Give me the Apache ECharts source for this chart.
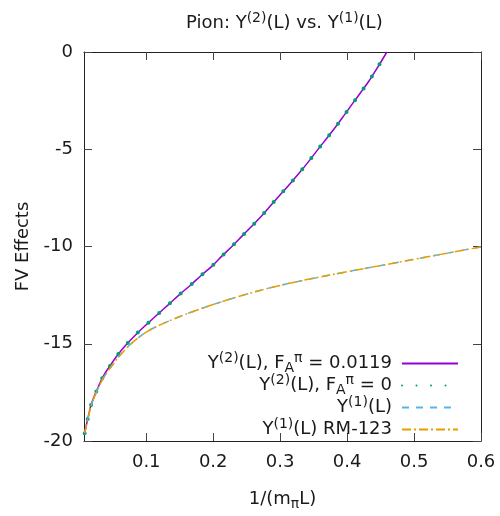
<!DOCTYPE html>
<html>
<head>
<meta charset="utf-8">
<script src="https://cdn.jsdelivr.net/npm/echarts@6/dist/echarts.min.js"></script>
<style>
html,body{margin:0;padding:0;background:#fff;}
#chart{width:500px;height:516px;}
</style>
</head>
<body>
<div id="chart"></div>
<script>
// ---- data ----
const xY2 = [0.008, 0.013, 0.018, 0.0254, 0.0353, 0.0455, 0.0578, 0.0713, 0.0862, 0.1022,
  0.1176, 0.134, 0.15, 0.166, 0.182, 0.1978, 0.2137, 0.2287, 0.2437, 0.2586,
  0.2736, 0.2875, 0.3014, 0.3158, 0.33, 0.343, 0.3562, 0.3697, 0.383, 0.3954,
  0.4078, 0.4203, 0.4327, 0.4442, 0.4594];
const y2Fa0119 = [-19.6, -18.8, -18.1, -17.45, -16.7, -16.15, -15.55, -15.0, -14.47, -13.95,
  -13.47, -12.96, -12.46, -11.99, -11.49, -11.02, -10.47, -9.97, -9.44, -8.92,
  -8.38, -7.83, -7.29, -6.73, -6.16, -5.61, -5.02, -4.43, -3.84, -3.26,
  -2.67, -2.08, -1.49, -0.87, 0.0];
const y2Fa0 = [-19.6, -18.8, -18.1, -17.45, -16.7, -16.15, -15.55, -15.0, -14.47, -13.95,
  -13.47, -12.96, -12.46, -11.99, -11.49, -11.02, -10.47, -9.97, -9.44, -8.92,
  -8.38, -7.83, -7.29, -6.73, -6.16, -5.61, -5.02, -4.43, -3.84, -3.26,
  -2.67, -2.08, -1.49, -0.87, 0.0];
const xY1 = [0.008, 0.013, 0.018, 0.0254, 0.0353, 0.0455, 0.0578, 0.0713, 0.086, 0.106,
  0.136, 0.171, 0.211, 0.25, 0.3, 0.35, 0.4, 0.45, 0.5, 0.55, 0.6];
const y1Values = [-19.6, -18.82, -18.15, -17.5, -16.8, -16.28, -15.72, -15.2, -14.75, -14.28,
  -13.8, -13.33, -12.86, -12.45, -12.0, -11.63, -11.3, -10.98, -10.66, -10.34, -10.02];
const y1Rm123 = [-19.6, -18.82, -18.15, -17.5, -16.8, -16.28, -15.72, -15.2, -14.75, -14.28,
  -13.8, -13.33, -12.86, -12.45, -12.0, -11.63, -11.3, -10.98, -10.66, -10.34, -10.02];
const xTicks = [0.1, 0.2, 0.3, 0.4, 0.5, 0.6];
const yTicks = [-20, -15, -10, -5, 0];
const seriesNames = ['y2fa', 'y2zero', 'y1', 'y1rm'];
const legendLabels = {
  y2fa: '{n|Y}{sup|(2)}{n|(L), F}{sub|A}{sup|π}{n| = 0.0119}',
  y2zero: '{n|Y}{sup|(2)}{n|(L), F}{sub|A}{sup|π}{n| = 0}',
  y1: '{n|Y}{sup|(1)}{n|(L)}',
  y1rm: '{n|Y}{sup|(1)}{n|(L) RM-123}'
};

const FONT = 'DejaVu Sans';
const TXT = '#1a1a1a';
const FS = 18;
const rich = {
  n: {fontFamily: FONT, fontSize: FS, fontWeight: 'normal', color: TXT, lineHeight: 24},
  sup: {fontFamily: FONT, fontSize: 14, fontWeight: 'normal', color: TXT, lineHeight: 15, verticalAlign: 'top'},
  sub: {fontFamily: FONT, fontSize: 14, fontWeight: 'normal', color: TXT, lineHeight: 12, verticalAlign: 'bottom'}
};
const zip = (xs, ys) => xs.map((x, i) => [x, ys[i]]);

const chart = echarts.init(document.getElementById('chart'), null, {renderer: 'canvas'});

const xCommon = {
  type: 'value', min: 0.007, max: 0.6,
  splitLine: {show: false},
  axisLine: {show: true, onZero: false, lineStyle: {color: '#222', width: 1}},
  axisTick: {show: true, inside: true, length: 8, lineStyle: {color: '#444'},
    customValues: xTicks}
};
const yCommon = {
  type: 'value', min: -20, max: 0, interval: 5,
  splitLine: {show: false},
  axisLine: {show: true, onZero: false, lineStyle: {color: '#222', width: 1}},
  axisTick: {show: true, inside: true, length: 8, lineStyle: {color: '#444'}}
};

const legendTops = [351.5, 373.5, 395.5, 417.5];
const legends = seriesNames.map((nm, i) => ({
  data: [nm],
  right: 41, top: legendTops[i], padding: 0,
  align: 'right', orient: 'vertical',
  itemWidth: 56, itemHeight: 14,
  selectedMode: false,
  itemStyle: {opacity: 0},
  formatter: (name) => legendLabels[name],
  textStyle: {rich: rich, padding: [0, 5, 0, 0]}
}));

chart.setOption({
  animation: false,
  backgroundColor: '#fff',
  title: {
    text: '{n|Pion: Y}{sup|(2)}{n|(L) vs. Y}{sup|(1)}{n|(L)}',
    left: 181, top: 6,
    textStyle: {rich: rich, fontWeight: 'normal'}
  },
  grid: {left: 84, right: 19, top: 52, bottom: 67},
  legend: legends,
  xAxis: [
    Object.assign({}, xCommon, {
      position: 'bottom',
      name: '{n|1/(m}{sub|π}{n|L)}', nameLocation: 'middle', nameGap: 46,
      nameTextStyle: {rich: rich},
      axisLabel: {show: true, margin: 12, fontFamily: FONT, fontSize: FS, color: TXT,
        customValues: xTicks,
        formatter: (v) => v.toFixed(1)}
    }),
    Object.assign({}, xCommon, {position: 'top', axisLabel: {show: false}})
  ],
  yAxis: [
    Object.assign({}, yCommon, {
      position: 'left',
      name: 'FV Effects', nameLocation: 'middle', nameGap: 52,
      nameTextStyle: {fontFamily: FONT, fontSize: FS, color: TXT},
      axisLabel: {show: true, margin: 11, fontFamily: FONT, fontSize: FS, color: TXT}
    }),
    Object.assign({}, yCommon, {position: 'right', axisLabel: {show: false}})
  ],
  series: [
    {name: 'y2fa', type: 'line', data: zip(xY2, y2Fa0119), symbol: 'none', smooth: 0.35,
      clip: true, color: '#9400d3', lineStyle: {color: '#9400d3', width: 1.5}},
    {name: 'y2zero', type: 'line', data: zip(xY2, y2Fa0), symbol: 'none', smooth: 0.35,
      clip: true, color: '#009e73',
      lineStyle: {color: '#009e73', width: 4, type: [0, 14.5], cap: 'round'}},
    {name: 'y1', type: 'line', data: zip(xY1, y1Values), symbol: 'none', smooth: 0.35,
      clip: true, color: '#56b4e9',
      lineStyle: {color: '#56b4e9', width: 1.5, type: [7, 7]}},
    {name: 'y1rm', type: 'line', data: zip(xY1, y1Rm123), symbol: 'none', smooth: 0.35,
      clip: true, color: '#e69f00',
      lineStyle: {color: '#e69f00', width: 1.5, type: [9, 3, 2, 3]}}
  ]
});
</script>
</body>
</html>
